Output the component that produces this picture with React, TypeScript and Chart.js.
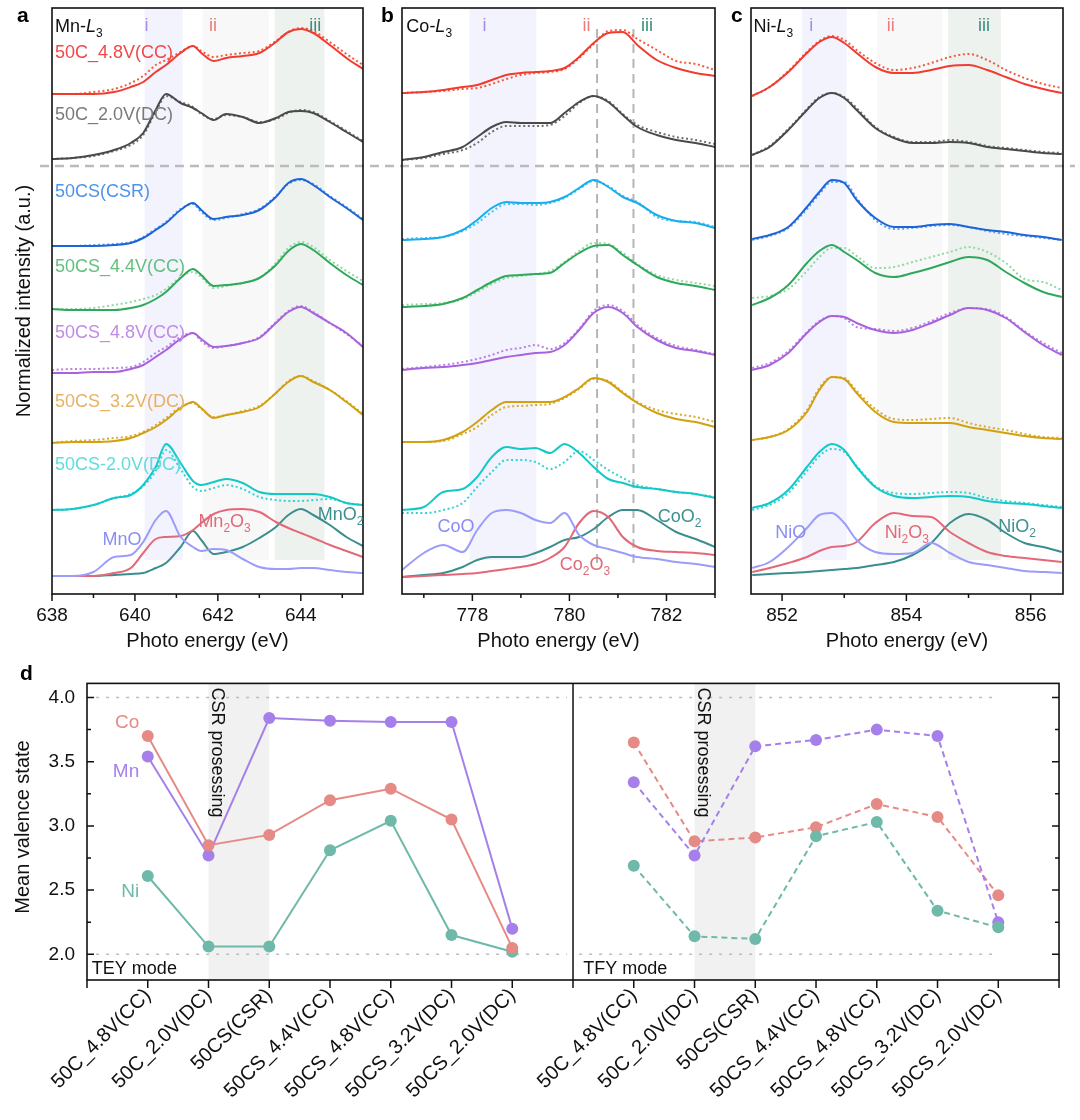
import React, { useEffect, useRef } from 'react';
import { Chart, registerables } from 'chart.js';

Chart.register(...registerables);

const FONT = '"Liberation Sans", Arial, Helvetica, sans-serif';
Chart.defaults.font.family = FONT;

// ---------------- Panel a : Mn-L3 ----------------
const MN_E = [638.0, 638.5, 639.0, 639.5, 639.9, 640.2, 640.5, 640.75, 641.1, 641.4, 641.6, 641.9, 642.2, 642.6, 643.0, 643.4, 643.7, 644.0, 644.3, 644.7, 645.1, 645.5];
const MN_50C_48 = [499, 499, 499, 501, 506, 511, 521, 528, 540, 547, 540, 532, 535, 537, 540, 551, 561, 564, 560, 548, 535, 524];
const MN_50C_48_DOT = [499, 499, 501, 504, 510, 517, 528, 533, 541, 547, 542, 536, 538, 540, 542, 552, 561, 565, 562, 551, 539, 528];
const MN_50C_20 = [434, 435, 438, 443, 450, 460, 483, 499, 490, 485, 480, 473, 479, 476, 470, 475, 481, 482, 480, 471, 461, 451];
const MN_50C_20_DOT = [434, 435, 437, 442, 448, 458, 481, 497, 491, 486, 479, 474, 478, 476, 471, 474, 480, 483, 481, 472, 462, 452];
const MN_CSR = [347, 347, 347, 348, 350, 355, 363, 370, 383, 390, 383, 374, 376, 378, 383, 396, 410, 414, 408, 396, 385, 373];
const MN_CSR_DOT = [347, 347, 348, 349, 351, 356, 364, 371, 384, 389, 381, 373, 375, 379, 384, 397, 409, 413, 409, 397, 386, 374];
const MN_CS44 = [284, 283, 283, 283, 285, 288, 294, 301, 315, 324, 318, 307, 308, 310, 315, 328, 342, 349, 343, 330, 318, 308];
const MN_CS44_DOT = [284, 284, 285, 288, 291, 294, 298, 304, 316, 321, 316, 305, 307, 310, 315, 330, 345, 351, 346, 333, 322, 312];
const MN_CS48 = [220, 220, 221, 221, 224, 228, 236, 243, 254, 260, 254, 246, 247, 250, 255, 270, 281, 286, 280, 270, 260, 246];
const MN_CS48_DOT = [223, 224, 224, 225, 226, 231, 240, 246, 256, 260, 252, 245, 247, 250, 256, 271, 282, 287, 281, 270, 259, 247];
const MN_CS32 = [150, 151, 151, 152, 155, 160, 166, 173, 185, 191, 185, 175, 178, 181, 186, 200, 211, 217, 211, 203, 191, 178];
const MN_CS32_DOT = [150, 152, 153, 155, 157, 161, 168, 175, 186, 190, 184, 176, 178, 182, 187, 200, 212, 217, 212, 203, 192, 179];
const MN_CS20 = [83, 84, 88, 95, 98, 108, 126, 149, 130, 112, 108, 111, 114, 110, 101, 99, 99, 99, 99, 96, 90, 88];
const MN_CS20_DOT = [83, 84, 88, 95, 99, 107, 122, 143, 124, 106, 102, 105, 108, 104, 96, 93, 92, 92, 93, 94, 90, 88];
const MN_REF_MNO = [17, 17, 21, 36, 38, 51, 73, 82, 56, 46, 42, 44, 43, 34, 26, 24, 24, 25, 25, 23, 21, 20];
const MN_REF_MN2O3 = [null, 17, 17, 20, 25, 40, 54, 56, 57, 63, 70, 79, 83, 84, 81, 71, 65, 60, 55, 48, 42, 36];
const MN_REF_MNO2 = [null, 17, 17, 18, 19, 20, 25, 30, 46, 62, 53, 39, 41, 46, 55, 66, 78, 84, 78, 68, 56, 47];

// ---------------- Panel b : Co-L3 ----------------
const CO_E = [776.55, 777.0, 777.4, 777.8, 778.1, 778.4, 778.7, 779.0, 779.3, 779.6, 779.9, 780.2, 780.5, 780.8, 781.1, 781.4, 781.8, 782.2, 782.6, 783.0];
const CO_50C_48 = [500, 501, 503, 506, 508, 513, 518, 520, 521, 522, 525, 536, 550, 560, 561, 548, 533, 525, 520, 517];
const CO_50C_48_DOT = [500, 501, 502, 504, 505, 509, 514, 518, 520, 521, 524, 535, 549, 562, 563, 554, 543, 532, 529, 523];
const CO_50C_20 = [433, 436, 441, 446, 456, 466, 471, 470, 470, 470, 480, 491, 497, 491, 478, 466, 458, 453, 450, 446];
const CO_50C_20_DOT = [433, 435, 439, 443, 450, 461, 467, 467, 467, 468, 477, 490, 497, 492, 479, 468, 461, 456, 453, 449];
const CO_CSR = [353, 354, 356, 363, 373, 385, 391, 390, 390, 391, 396, 405, 413, 406, 396, 390, 378, 372, 370, 365];
const CO_CSR_DOT = [354, 355, 356, 362, 370, 381, 389, 389, 388, 390, 395, 404, 412, 407, 397, 391, 376, 372, 371, 366];
const CO_CS44 = [286, 287, 289, 295, 303, 311, 317, 318, 319, 320, 330, 340, 347, 348, 338, 328, 316, 310, 307, 303];
const CO_CS44_DOT = [288, 289, 290, 294, 301, 309, 315, 317, 319, 322, 331, 342, 350, 349, 340, 329, 318, 313, 310, 307];
const CO_CS48 = [223, 225, 226, 228, 230, 233, 236, 238, 240, 241, 248, 263, 280, 286, 280, 266, 253, 245, 242, 238];
const CO_CS48_DOT = [224, 226, 228, 231, 234, 238, 243, 245, 248, 244, 250, 264, 282, 288, 282, 268, 255, 247, 243, 239];
const CO_CS32 = [151, 151, 153, 161, 171, 183, 191, 191, 191, 191, 196, 205, 215, 211, 200, 190, 180, 174, 171, 166];
const CO_CS32_DOT = [151, 151, 152, 159, 166, 178, 186, 187, 188, 189, 195, 204, 214, 212, 201, 191, 183, 179, 176, 171];
const CO_CS20 = [83, 86, 101, 104, 116, 136, 146, 144, 145, 140, 149, 140, 126, 114, 110, 106, 104, 101, 99, 95];
const CO_CS20_DOT = [80, 80, 83, 90, 106, 121, 133, 133, 131, 124, 131, 142, 133, 123, 115, 108, 104, 101, 99, 96];
const CO_REF_COO = [23, 40, 48, 41, 63, 80, 83, 80, 73, 70, 80, 58, 48, 44, 40, 36, 34, 31, 29, 26];
const CO_REF_CO2O3 = [16, 17, 18, 19, 20, 22, 24, 26, 29, 35, 46, 70, 82, 76, 56, 46, 42, 41, 40, 38];
const CO_REF_COO2 = [16, 18, 20, 26, 33, 36, 36, 36, 40, 46, 53, 56, 64, 76, 83, 83, 73, 61, 54, 46];

// ---------------- Panel c : Ni-L3 ----------------
const NI_E = [851.52, 851.8, 852.1, 852.4, 852.6, 852.8, 853.0, 853.2, 853.5, 853.8, 854.1, 854.4, 854.7, 855.0, 855.3, 855.6, 855.9, 856.2, 856.5];
const NI_50C_48 = [497, 506, 521, 540, 551, 556, 550, 540, 526, 520, 520, 523, 527, 528, 523, 516, 509, 504, 500];
const NI_50C_48_DOT = [497, 506, 522, 541, 552, 557, 553, 543, 530, 523, 525, 530, 536, 539, 533, 523, 515, 509, 505];
const NI_50C_20 = [438, 446, 463, 483, 495, 500, 495, 483, 465, 455, 450, 450, 451, 450, 446, 444, 442, 440, 439];
const NI_50C_20_DOT = [438, 447, 464, 484, 496, 500, 496, 485, 466, 456, 451, 451, 453, 451, 447, 445, 443, 441, 440];
const NI_CSR = [354, 358, 366, 386, 401, 413, 410, 393, 375, 366, 366, 368, 369, 366, 363, 361, 358, 356, 353];
const NI_CSR_DOT = [353, 357, 365, 384, 399, 411, 411, 395, 373, 364, 365, 367, 368, 366, 362, 359, 357, 355, 353];
const NI_CS44 = [288, 295, 308, 330, 342, 348, 341, 333, 320, 316, 320, 325, 331, 336, 333, 321, 310, 301, 296];
const NI_CS44_DOT = [295, 297, 304, 322, 336, 345, 345, 337, 325, 326, 331, 336, 341, 346, 341, 330, 314, 311, 303];
const NI_CS48 = [223, 228, 240, 260, 271, 277, 276, 270, 263, 260, 263, 270, 278, 285, 283, 275, 261, 248, 238];
const NI_CS48_DOT = [225, 230, 242, 261, 272, 277, 275, 266, 264, 262, 265, 272, 280, 285, 284, 276, 262, 250, 240];
const NI_CS32 = [153, 156, 163, 181, 203, 216, 214, 200, 181, 171, 170, 170, 170, 166, 163, 160, 157, 155, 154];
const NI_CS32_DOT = [153, 156, 164, 183, 205, 216, 215, 202, 184, 174, 173, 174, 175, 170, 166, 163, 159, 156, 155];
const NI_CS20 = [85, 90, 103, 126, 141, 149, 143, 126, 106, 97, 95, 96, 97, 96, 92, 90, 89, 87, 85];
const NI_CS20_DOT = [83, 88, 100, 122, 137, 144, 141, 127, 107, 100, 99, 100, 101, 100, 95, 92, 90, 88, 86];
const NI_REF_NIO = [25, 31, 46, 65, 78, 80, 70, 53, 41, 39, 40, 50, 40, 31, 28, 25, 22, 21, 20];
const NI_REF_NI2O3 = [21, 25, 30, 36, 42, 46, 47, 51, 70, 80, 77, 76, 61, 50, 41, 37, 35, 33, 31];
const NI_REF_NIO2 = [18, 19, 20, 21, 22, 23, 24, 25, 28, 31, 38, 50, 70, 79, 73, 60, 50, 46, 41];

// ---------------- Panel d : mean valence ----------------
const SAMPLES = ['50C_4.8V(CC)', '50C_2.0V(DC)', '50CS(CSR)', '50CS_4.4V(CC)', '50CS_4.8V(CC)', '50CS_3.2V(DC)', '50CS_2.0V(DC)'];
const SPECTRA_LABELS = ['50C_4.8V(CC)', '50C_2.0V(DC)', '50CS(CSR)', '50CS_4.4V(CC)', '50CS_4.8V(CC)', '50CS_3.2V(DC)', '50CS-2.0V(DC)'];
const TEY_CO = [3.70, 2.85, 2.93, 3.20, 3.29, 3.05, 2.05];
const TEY_MN = [3.54, 2.77, 3.84, 3.82, 3.81, 3.81, 2.20];
const TEY_NI = [2.61, 2.06, 2.06, 2.81, 3.04, 2.15, 2.02];
const TFY_CO = [3.65, 2.88, 2.91, 2.99, 3.17, 3.07, 2.46];
const TFY_MN = [3.34, 2.77, 3.62, 3.67, 3.75, 3.70, 2.25];
const TFY_NI = [2.69, 2.14, 2.12, 2.92, 3.03, 2.34, 2.21];

// ---------------- styling ----------------
const C_RED = '#F23B30', C_RED_D = '#F35A3C', C_RED_L = '#F24848';
const C_GRAY = '#4A4A4A', C_GRAY_D = '#6E6E6E', C_GRAY_L = '#7A7A7A';
const C_BLUE = '#1F64D6', C_BLUE_D = '#5BA2EE', C_BLUE_L = '#4F93EA';
const C_SKY = '#18AEEE', C_SKY_D = '#4CC2F2';
const C_GREEN = '#2EA85A', C_GREEN_D = '#8FD9A2', C_GREEN_L = '#62C07E';
const C_PURPLE = '#A862DE', C_PURPLE_D = '#B783E4', C_PURPLE_L = '#C08CE6';
const C_GOLD = '#D2A010', C_GOLD_D = '#D8AA2E', C_GOLD_L = '#E8B262';
const C_CYAN = '#12C8C8', C_CYAN_D = '#34D3D3', C_CYAN_L = '#62DCDC';
const C_REF1 = '#9C9CFA', C_REF2 = '#E36878', C_REF3 = '#3B8E8E';
const BAND_I = '#F3F3FE', BAND_II = '#F8F8F8', BAND_III = '#EEF2EF';
const C_I = '#A68AE6', C_II = '#E87D7D', C_III = '#3D8C7E';
const D_CO = '#E68A85', D_MN = '#A680EA', D_NI = '#6EB9A9';

type Part = { t: string; sub?: boolean; it?: boolean };
type Label = { parts: Part[] | string; x: number; y: number; color: string; size: number; align?: 'left' | 'center' | 'right'; bold?: boolean; rot?: number; px?: boolean; dx?: number; dy?: number };
type Band = { x0: number; x1: number; y0?: number; y1?: number; color: string };
type HLine = { y: number; x0?: number; x1?: number; px0?: number; px1?: number; color: string; dash: number[]; width: number };
type VLine = { x: number; y0?: number; y1?: number; color: string; dash: number[]; width: number };
type Ticks = { xStep: number; xMajor: number; xMajorLen: number; xMinorLen: number; yStep?: number; yMajor?: number; yMajorLen?: number; yMinorLen?: number };
type Decor = { bands?: Band[]; hlines?: HLine[]; vlines?: VLine[]; ticks: Ticks; labels: Label[]; xTitle?: string };

function drawRich(ctx: CanvasRenderingContext2D, parts: Part[] | string, x: number, y: number, size: number, color: string, align: string, bold?: boolean) {
  const list: Part[] = typeof parts === 'string' ? [{ t: parts }] : parts;
  const fontOf = (p: Part) => `${p.it ? 'italic ' : ''}${bold ? 'bold ' : ''}${p.sub ? Math.round(size * 0.68) : size}px ${FONT}`;
  let total = 0;
  const widths = list.map((p) => {
    ctx.font = fontOf(p);
    const w = ctx.measureText(p.t).width;
    total += w;
    return w;
  });
  let cx = align === 'center' ? x - total / 2 : align === 'right' ? x - total : x;
  ctx.fillStyle = color;
  ctx.textAlign = 'left';
  ctx.textBaseline = 'alphabetic';
  list.forEach((p, i) => {
    ctx.font = fontOf(p);
    ctx.fillText(p.t, cx, y + (p.sub ? size * 0.28 : 0));
    cx += widths[i];
  });
}

function makeDecor(spec: Decor) {
  return {
    id: 'decor',
    beforeDatasetsDraw(chart: any) {
      const { ctx, chartArea: a } = chart;
      const sx = chart.scales.x, sy = chart.scales.y;
      ctx.save();
      for (const b of spec.bands || []) {
        const l = sx.getPixelForValue(b.x0), r = sx.getPixelForValue(b.x1);
        const t = b.y1 == null ? a.top : sy.getPixelForValue(b.y1);
        const bt = b.y0 == null ? a.bottom : sy.getPixelForValue(b.y0);
        ctx.fillStyle = b.color;
        ctx.fillRect(l, t, r - l, bt - t);
      }
      for (const h of spec.hlines || []) {
        const yy = sy.getPixelForValue(h.y);
        const x0 = h.px0 != null ? h.px0 : h.x0 != null ? sx.getPixelForValue(h.x0) : a.left;
        const x1 = h.px1 != null ? (h.px1 < 0 ? chart.width : h.px1) : h.x1 != null ? sx.getPixelForValue(h.x1) : a.right;
        ctx.beginPath();
        ctx.setLineDash(h.dash);
        ctx.strokeStyle = h.color;
        ctx.lineWidth = h.width;
        ctx.moveTo(x0, yy);
        ctx.lineTo(x1, yy);
        ctx.stroke();
      }
      for (const v of spec.vlines || []) {
        const xx = sx.getPixelForValue(v.x);
        const y0 = v.y0 == null ? a.bottom : sy.getPixelForValue(v.y0);
        const y1 = v.y1 == null ? a.top : sy.getPixelForValue(v.y1);
        ctx.beginPath();
        ctx.setLineDash(v.dash);
        ctx.strokeStyle = v.color;
        ctx.lineWidth = v.width;
        ctx.moveTo(xx, y0);
        ctx.lineTo(xx, y1);
        ctx.stroke();
      }
      ctx.restore();
    },
    afterDatasetsDraw(chart: any) {
      const { ctx, chartArea: a } = chart;
      const sx = chart.scales.x, sy = chart.scales.y;
      ctx.save();
      ctx.setLineDash([]);
      ctx.strokeStyle = '#111';
      ctx.lineWidth = 1.6;
      ctx.strokeRect(a.left, a.top, a.right - a.left, a.bottom - a.top);
      const t = spec.ticks;
      ctx.lineWidth = 1.5;
      ctx.beginPath();
      const k0 = Math.ceil(sx.min / t.xStep - 1e-9);
      for (let k = k0; k * t.xStep <= sx.max + 1e-9; k++) {
        const val = k * t.xStep;
        const r = val / t.xMajor;
        const major = Math.abs(r - Math.round(r)) < 1e-6;
        const px = sx.getPixelForValue(val);
        ctx.moveTo(px, a.bottom);
        ctx.lineTo(px, a.bottom + (major ? t.xMajorLen : t.xMinorLen));
      }
      if (t.yStep && t.yMajor) {
        const j0 = Math.ceil(sy.min / t.yStep - 1e-9);
        for (let j = j0; j * t.yStep <= sy.max + 1e-9; j++) {
          const val = j * t.yStep;
          const r = val / t.yMajor;
          const major = Math.abs(r - Math.round(r)) < 1e-6;
          const len = major ? t.yMajorLen || 6 : t.yMinorLen || 3;
          const py = sy.getPixelForValue(val);
          ctx.moveTo(a.left, py);
          ctx.lineTo(a.left + len, py);
          ctx.moveTo(a.right, py);
          ctx.lineTo(a.right - len, py);
        }
      }
      ctx.stroke();
      for (const L of spec.labels) {
        let px = L.px ? L.x : sx.getPixelForValue(L.x);
        let py = L.px ? L.y : sy.getPixelForValue(L.y);
        px += L.dx || 0;
        py += L.dy || 0;
        ctx.save();
        ctx.translate(px, py);
        if (L.rot) ctx.rotate(L.rot);
        drawRich(ctx, L.parts, 0, 0, L.size, L.color, L.align || 'left', L.bold);
        ctx.restore();
      }
      if (spec.xTitle) {
        drawRich(ctx, spec.xTitle, (a.left + a.right) / 2, a.bottom + 53, 20, '#111', 'center');
      }
      ctx.restore();
    },
  };
}

type Curve = { v: (number | null)[]; color: string; dotted?: boolean };

function lineDataset(e: number[], c: Curve) {
  const data: { x: number; y: number }[] = [];
  e.forEach((x, i) => {
    const y = c.v[i];
    if (y != null) data.push({ x, y });
  });
  return {
    data,
    borderColor: c.color,
    borderWidth: 2,
    borderDash: c.dotted ? [2, 2.6] : [],
    pointRadius: 0,
    fill: false,
    cubicInterpolationMode: 'monotone',
  };
}

function spectraConfig(e: number[], curves: Curve[], xmin: number, xmax: number, padL: number, padR: number, decor: Decor) {
  return {
    type: 'line',
    data: { datasets: curves.map((c) => lineDataset(e, c)) },
    options: {
      animation: false,
      responsive: false,
      maintainAspectRatio: false,
      layout: { padding: { left: padL, right: padR, top: 8, bottom: 0 } },
      plugins: { legend: { display: false }, tooltip: { enabled: false } },
      scales: {
        x: {
          type: 'linear',
          min: xmin,
          max: xmax,
          afterFit: (s: any) => { s.height = 66; },
          grid: { display: false, drawTicks: false },
          border: { display: false },
          ticks: {
            stepSize: 1,
            includeBounds: false,
            autoSkip: false,
            maxTicksLimit: 40,
            maxRotation: 0,
            minRotation: 0,
            padding: 10,
            color: '#111',
            font: { family: FONT, size: 19 },
            callback: (v: number) => (Math.abs(v / 2 - Math.round(v / 2)) < 1e-6 ? String(Math.round(v)) : ''),
          },
        },
        y: { display: false, min: -1, max: 585 },
      },
    },
    plugins: [makeDecor(decor)],
  } as any;
}

const refLabel = (parts: Part[] | string, x: number, y: number, color: string): Label => ({ parts, x, y, color, size: 18 });

function panelA() {
  const curves: Curve[] = [
    { v: MN_50C_48, color: C_RED }, { v: MN_50C_48_DOT, color: C_RED_D, dotted: true },
    { v: MN_50C_20, color: C_GRAY }, { v: MN_50C_20_DOT, color: C_GRAY_D, dotted: true },
    { v: MN_CSR, color: C_BLUE }, { v: MN_CSR_DOT, color: C_BLUE_D, dotted: true },
    { v: MN_CS44, color: C_GREEN }, { v: MN_CS44_DOT, color: C_GREEN_D, dotted: true },
    { v: MN_CS48, color: C_PURPLE }, { v: MN_CS48_DOT, color: C_PURPLE_D, dotted: true },
    { v: MN_CS32, color: C_GOLD }, { v: MN_CS32_DOT, color: C_GOLD_D, dotted: true },
    { v: MN_CS20, color: C_CYAN }, { v: MN_CS20_DOT, color: C_CYAN_D, dotted: true },
    { v: MN_REF_MNO, color: C_REF1 }, { v: MN_REF_MN2O3, color: C_REF2 }, { v: MN_REF_MNO2, color: C_REF3 },
  ];
  const labelColors = [C_RED_L, C_GRAY_L, C_BLUE_L, C_GREEN_L, C_PURPLE_L, C_GOLD_L, C_CYAN_L];
  const labelY = [535, 473, 396, 321, 255, 186, 123];
  const labels: Label[] = SPECTRA_LABELS.map((s, i) => ({ parts: s, x: 638.07, y: labelY[i], color: labelColors[i], size: 18 }));
  labels.push(
    { parts: [{ t: 'Mn-' }, { t: 'L', it: true }, { t: '3', sub: true }], x: 638.07, y: 561, color: '#111', size: 18 },
    { parts: 'i', x: 640.28, y: 562, color: C_I, size: 18, align: 'center' },
    { parts: 'ii', x: 641.88, y: 562, color: C_II, size: 18, align: 'center' },
    { parts: 'iii', x: 644.35, y: 562, color: C_III, size: 18, align: 'center' },
    refLabel('MnO', 639.22, 48, '#8C8CF5'),
    refLabel([{ t: 'Mn' }, { t: '2', sub: true }, { t: 'O' }, { t: '3', sub: true }], 641.53, 66, '#E06A78'),
    refLabel([{ t: 'MnO' }, { t: '2', sub: true }], 644.41, 73, '#3F9090'),
    { parts: 'a', x: 17, y: 22, color: '#000', size: 21, bold: true, px: true },
    { parts: 'Normalized intensity (a.u.)', x: 30, y: 301, color: '#111', size: 20, px: true, rot: -Math.PI / 2, align: 'center' },
  );
  const decor: Decor = {
    bands: [
      { x0: 640.23, x1: 641.15, y0: 33, color: BAND_I },
      { x0: 641.63, x1: 643.23, y0: 33, color: BAND_II },
      { x0: 643.37, x1: 644.57, y0: 33, color: BAND_III },
    ],
    hlines: [{ y: 427, px0: 40, px1: -1, color: '#BBBBBB', dash: [9, 6], width: 2.5 }],
    ticks: { xStep: 1, xMajor: 2, xMajorLen: 7, xMinorLen: 4 },
    labels,
    xTitle: 'Photo energy (eV)',
  };
  return spectraConfig(MN_E, curves, 638, 645.5, 52, 7, decor);
}

function panelB() {
  const curves: Curve[] = [
    { v: CO_50C_48, color: C_RED }, { v: CO_50C_48_DOT, color: C_RED_D, dotted: true },
    { v: CO_50C_20, color: C_GRAY }, { v: CO_50C_20_DOT, color: C_GRAY_D, dotted: true },
    { v: CO_CSR, color: C_SKY }, { v: CO_CSR_DOT, color: C_SKY_D, dotted: true },
    { v: CO_CS44, color: C_GREEN }, { v: CO_CS44_DOT, color: C_GREEN_D, dotted: true },
    { v: CO_CS48, color: C_PURPLE }, { v: CO_CS48_DOT, color: C_PURPLE_D, dotted: true },
    { v: CO_CS32, color: C_GOLD }, { v: CO_CS32_DOT, color: C_GOLD_D, dotted: true },
    { v: CO_CS20, color: C_CYAN }, { v: CO_CS20_DOT, color: C_CYAN_D, dotted: true },
    { v: CO_REF_COO, color: C_REF1 }, { v: CO_REF_CO2O3, color: C_REF2 }, { v: CO_REF_COO2, color: C_REF3 },
  ];
  const decor: Decor = {
    bands: [{ x0: 777.94, x1: 779.32, y0: 33, color: BAND_I }],
    hlines: [{ y: 427, px0: 0, px1: -1, color: '#BBBBBB', dash: [9, 6], width: 2.5 }],
    vlines: [
      { x: 780.57, y0: 30, y1: 565, color: '#B5B5B5', dash: [9, 6], width: 2 },
      { x: 781.32, y0: 30, y1: 565, color: '#B5B5B5', dash: [9, 6], width: 2 },
    ],
    ticks: { xStep: 1, xMajor: 2, xMajorLen: 7, xMinorLen: 4 },
    labels: [
      { parts: [{ t: 'Co-' }, { t: 'L', it: true }, { t: '3', sub: true }], x: 776.64, y: 561, color: '#111', size: 18 },
      { parts: 'i', x: 778.25, y: 562, color: C_I, size: 18, align: 'center' },
      { parts: 'ii', x: 780.35, y: 562, color: C_II, size: 18, align: 'center' },
      { parts: 'iii', x: 781.6, y: 562, color: C_III, size: 18, align: 'center' },
      refLabel('CoO', 777.28, 61, '#8C8CF5'),
      refLabel([{ t: 'Co' }, { t: '2', sub: true }, { t: 'O' }, { t: '3', sub: true }], 779.8, 23, '#E06A78'),
      refLabel([{ t: 'CoO' }, { t: '2', sub: true }], 781.82, 71, '#3F9090'),
      { parts: 'b', x: 11, y: 22, color: '#000', size: 21, bold: true, px: true },
    ],
    xTitle: 'Photo energy (eV)',
  };
  return spectraConfig(CO_E, curves, 776.55, 783, 32, 8, decor);
}

function panelC() {
  const curves: Curve[] = [
    { v: NI_50C_48, color: C_RED }, { v: NI_50C_48_DOT, color: C_RED_D, dotted: true },
    { v: NI_50C_20, color: C_GRAY }, { v: NI_50C_20_DOT, color: C_GRAY_D, dotted: true },
    { v: NI_CSR, color: C_BLUE }, { v: NI_CSR_DOT, color: C_BLUE_D, dotted: true },
    { v: NI_CS44, color: C_GREEN }, { v: NI_CS44_DOT, color: C_GREEN_D, dotted: true },
    { v: NI_CS48, color: C_PURPLE }, { v: NI_CS48_DOT, color: C_PURPLE_D, dotted: true },
    { v: NI_CS32, color: C_GOLD }, { v: NI_CS32_DOT, color: C_GOLD_D, dotted: true },
    { v: NI_CS20, color: C_CYAN }, { v: NI_CS20_DOT, color: C_CYAN_D, dotted: true },
    { v: NI_REF_NIO, color: C_REF1 }, { v: NI_REF_NI2O3, color: C_REF2 }, { v: NI_REF_NIO2, color: C_REF3 },
  ];
  const decor: Decor = {
    bands: [
      { x0: 852.32, x1: 853.04, y0: 33, color: BAND_I },
      { x0: 853.53, x1: 854.58, y0: 33, color: BAND_II },
      { x0: 854.67, x1: 855.52, y0: 33, color: BAND_III },
    ],
    hlines: [{ y: 427, px0: 0, px1: 350, color: '#BBBBBB', dash: [9, 6], width: 2.5 }],
    ticks: { xStep: 1, xMajor: 2, xMajorLen: 7, xMinorLen: 4 },
    labels: [
      { parts: [{ t: 'Ni-' }, { t: 'L', it: true }, { t: '3', sub: true }], x: 851.54, y: 561, color: '#111', size: 18 },
      { parts: 'i', x: 852.47, y: 562, color: C_I, size: 18, align: 'center' },
      { parts: 'ii', x: 853.75, y: 562, color: C_II, size: 18, align: 'center' },
      { parts: 'iii', x: 855.25, y: 562, color: C_III, size: 18, align: 'center' },
      refLabel('NiO', 851.89, 55, '#8C8CF5'),
      refLabel([{ t: 'Ni' }, { t: '2', sub: true }, { t: 'O' }, { t: '3', sub: true }], 853.65, 55, '#E06A78'),
      refLabel([{ t: 'NiO' }, { t: '2', sub: true }], 855.48, 61, '#3F9090'),
      { parts: 'c', x: 6, y: 22, color: '#000', size: 21, bold: true, px: true },
    ],
    xTitle: 'Photo energy (eV)',
  };
  return spectraConfig(NI_E, curves, 851.5, 856.52, 26, 17, decor);
}

function valenceDataset(vals: number[], start: number, color: string, dashed: boolean, order: number) {
  return {
    data: vals.map((y, i) => ({ x: start + i, y })),
    borderColor: color,
    backgroundColor: color,
    borderWidth: 2,
    borderDash: dashed ? [6, 4] : [],
    pointRadius: 6,
    pointBorderWidth: 0,
    pointBackgroundColor: color,
    fill: false,
    tension: 0,
    order,
  };
}

function panelD() {
  const decor: Decor = {
    bands: [
      { x0: 2, x1: 3, color: '#F1F1F1' },
      { x0: 10, x1: 11, color: '#F1F1F1' },
    ],
    hlines: [
      { y: 4, x0: 0.15, x1: 7.9, color: '#BDBDBD', dash: [3, 7], width: 1.5 },
      { y: 2, x0: 0.15, x1: 7.9, color: '#BDBDBD', dash: [3, 7], width: 1.5 },
      { y: 4, x0: 8.1, x1: 15.0, color: '#BDBDBD', dash: [3, 7], width: 1.5 },
      { y: 2, x0: 8.1, x1: 15.0, color: '#BDBDBD', dash: [3, 7], width: 1.5 },
    ],
    vlines: [{ x: 8, color: '#111', dash: [], width: 1.5 }],
    ticks: { xStep: 1, xMajor: 1, xMajorLen: 8, xMinorLen: 8, yStep: 0.25, yMajor: 0.5, yMajorLen: 7, yMinorLen: 4 },
    labels: [
      { parts: 'Co', x: 0.86, y: 3.76, color: D_CO, size: 19, align: 'right' },
      { parts: 'Mn', x: 0.86, y: 3.38, color: D_MN, size: 19, align: 'right' },
      { parts: 'Ni', x: 0.86, y: 2.45, color: D_NI, size: 19, align: 'right' },
      { parts: 'TEY mode', x: 0.08, y: 1.843, color: '#111', size: 18 },
      { parts: 'TFY mode', x: 8.17, y: 1.843, color: '#111', size: 18 },
      { parts: 'CSR prosessing', x: 2, y: 4.11, dx: 3, dy: 4, color: '#111', size: 18, rot: Math.PI / 2 },
      { parts: 'CSR prosessing', x: 10, y: 4.11, dx: 3, dy: 4, color: '#111', size: 18, rot: Math.PI / 2 },
      { parts: 'd', x: 20, y: 20, color: '#000', size: 21, bold: true, px: true },
      { parts: 'Mean valence state', x: 29, y: 167, color: '#111', size: 20, px: true, rot: -Math.PI / 2, align: 'center' },
    ],
  };
  return {
    type: 'line',
    data: {
      datasets: [
        valenceDataset(TEY_CO, 1, D_CO, false, 0),
        valenceDataset(TEY_MN, 1, D_MN, false, 1),
        valenceDataset(TEY_NI, 1, D_NI, false, 2),
        valenceDataset(TFY_NI, 9, D_NI, true, 3),
        valenceDataset(TFY_MN, 9, D_MN, true, 4),
        valenceDataset(TFY_CO, 9, D_CO, true, 5),
      ],
    },
    options: {
      animation: false,
      responsive: false,
      maintainAspectRatio: false,
      layout: { padding: { left: 0, right: 15, top: 14, bottom: 0 } },
      plugins: { legend: { display: false }, tooltip: { enabled: false } },
      scales: {
        x: {
          type: 'linear',
          min: 0,
          max: 16,
          afterFit: (s: any) => { s.height = 140; },
          grid: { display: false, drawTicks: false },
          border: { display: false },
          ticks: {
            stepSize: 1,
            autoSkip: false,
            maxTicksLimit: 40,
            maxRotation: 45,
            minRotation: 45,
            padding: 4,
            color: '#111',
            font: { family: FONT, size: 20 },
            callback: (v: number) => {
              const n = Math.round(v);
              if (n >= 1 && n <= 7) return SAMPLES[n - 1];
              if (n >= 9 && n <= 15) return SAMPLES[n - 9];
              return '';
            },
          },
        },
        y: {
          min: 1.8,
          max: 4.11,
          afterFit: (s: any) => { s.width = 87; },
          grid: { display: false, drawTicks: false },
          border: { display: false },
          ticks: {
            stepSize: 0.25,
            includeBounds: false,
            padding: 12,
            color: '#111',
            font: { family: FONT, size: 19 },
            callback: (v: number) => (Math.abs(v * 2 - Math.round(v * 2)) < 1e-6 ? v.toFixed(1) : ''),
          },
        },
      },
    },
    plugins: [makeDecor(decor)],
  } as any;
}

export default function App() {
  const ra = useRef<HTMLCanvasElement>(null);
  const rb = useRef<HTMLCanvasElement>(null);
  const rc = useRef<HTMLCanvasElement>(null);
  const rd = useRef<HTMLCanvasElement>(null);
  useEffect(() => {
    const charts = [
      new Chart(ra.current as HTMLCanvasElement, panelA()),
      new Chart(rb.current as HTMLCanvasElement, panelB()),
      new Chart(rc.current as HTMLCanvasElement, panelC()),
      new Chart(rd.current as HTMLCanvasElement, panelD()),
    ];
    return () => charts.forEach((c) => c.destroy());
  }, []);
  const cs = (left: number, top: number): React.CSSProperties => ({ position: 'absolute', left, top, display: 'block' });
  return (
    <div style={{ position: 'absolute', left: 0, top: 0, width: 1080, height: 1120, background: '#fff', overflow: 'hidden' }}>
      <canvas ref={ra} width={370} height={660} style={cs(0, 0)} />
      <canvas ref={rb} width={355} height={660} style={cs(370, 0)} />
      <canvas ref={rc} width={355} height={660} style={cs(725, 0)} />
      <canvas ref={rd} width={1080} height={460} style={cs(0, 660)} />
    </div>
  );
}
